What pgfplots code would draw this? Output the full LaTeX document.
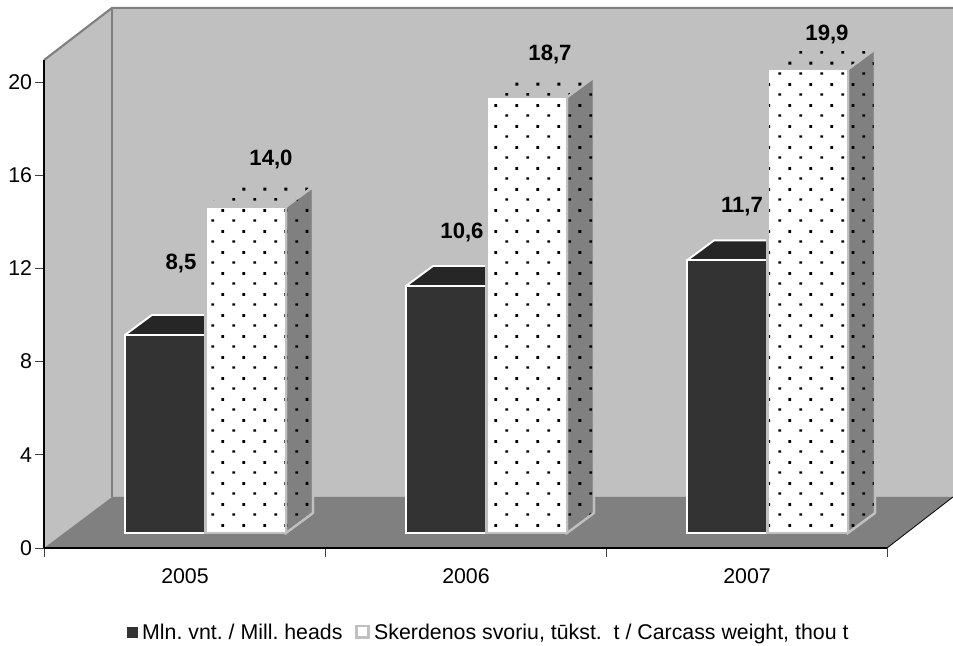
\documentclass[border=0pt]{standalone}
\usepackage{fontspec}
\setmainfont{Liberation Sans}
\usepackage{pgfplots}
\pgfplotsset{compat=1.18}
\usetikzlibrary{patterns}
\definecolor{wall}{HTML}{C0C0C0}
\definecolor{floorc}{HTML}{808080}
\definecolor{darkbar}{HTML}{333333}
\definecolor{darktop}{HTML}{262626}
\pgfdeclarepatternformonly{tiledots}{\pgfqpoint{0pt}{0pt}}{\pgfqpoint{15.75pt}{15.75pt}}{\pgfqpoint{15.75pt}{15.75pt}}{%
  \pgfpathrectangle{\pgfqpoint{8.875pt}{11.075pt}}{\pgfqpoint{2.25pt}{2.25pt}}%
  \pgfpathrectangle{\pgfqpoint{1pt}{3.425pt}}{\pgfqpoint{2.25pt}{1.8pt}}%
  \pgfusepath{fill}}
\newcommand{\fs}{\fontsize{16}{18}\selectfont\frenchspacing}
\begin{document}
\begin{tikzpicture}
\useasboundingbox (-33pt,-73.5pt) rectangle (681.75pt,411pt);
\begin{axis}[
  x=0.75pt, y=17.475pt,
  xmin=44, xmax=887, ymin=0, ymax=20.94,
  clip=false, axis on top=true,
  axis x line*=bottom, axis y line*=left,
  axis line style={black, line width=0.9pt, -},
  tick align=outside, major tick length=6.4pt,
  tick style={line width=0.7pt, color=black!75},
  xtick={44,325,606,887}, xticklabels={},
  extra x ticks={185,466,747},
  extra x tick labels={2005,2006,2007},
  extra x tick style={major tick length=0pt, tick label style={yshift=-12pt}},
  ytick={0,4,8,12,16,20},
  /pgf/number format/assume math mode=true,
  tick label style={font=\fs},
  yticklabel style={xshift=1pt},
  legend style={at={(axis cs:490,-3.62)}, anchor=center, draw=none, fill=none, font=\fs,
    legend columns=2, /tikz/every even column/.append style={column sep=6pt},
    nodes={inner xsep=3.4pt}},
  legend image code/.code={\draw[#1] (0pt,-3.7pt) rectangle (7.6pt,3.9pt);},
]
% walls and floor
\addplot[fill=wall, draw=none, forget plot] coordinates {(44,0)(112,2.19)(112,23.18)(44,20.94)} --cycle;
\addplot[fill=wall, draw=none, forget plot] coordinates {(112,2.19)(953,2.19)(953,23.18)(112,23.18)} --cycle;
\addplot[fill=floorc, draw=none, forget plot] coordinates {(44,0)(112,2.19)(953,2.19)(887,0)} --cycle;
\addplot[floorc, line width=1.6pt, forget plot] coordinates {(44,20.94)(112,23.18)(953,23.18)};
\addplot[floorc, line width=1.9pt, forget plot] coordinates {(112,23.18)(112,2.19)};
\addplot[black, line width=0.6pt, forget plot] coordinates {(887,0)(953,2.19)};
% dark series: tops, then front faces
\begin{scope}[yshift=5.625pt]
\addplot[fill=darktop, draw=white, line width=1.4pt, line join=round, forget plot] coordinates {(125,8.5)(152,9.358)(232.5,9.358)(205.5,8.5)} --cycle;
\addplot[fill=darktop, draw=white, line width=1.4pt, line join=round, forget plot] coordinates {(406,10.6)(433,11.458)(513.5,11.458)(486.5,10.6)} --cycle;
\addplot[fill=darktop, draw=white, line width=1.4pt, line join=round, forget plot] coordinates {(687,11.7)(714,12.558)(794.5,12.558)(767.5,11.7)} --cycle;
\addplot[ybar, bar shift=0pt, bar width=60.375pt, fill=darkbar, draw=white, line width=1.4pt, forget plot]
  coordinates {(165.25,8.5)(446.25,10.6)(727.25,11.7)};
% dotted series: tops, sides, front faces
\addplot[preaction={fill=wall}, pattern=tiledots, pattern color=black, draw=none, forget plot] coordinates {(205.5,14.0)(232.5,14.858)(313,14.858)(286,14.0)} --cycle;
\addplot[preaction={fill=wall}, pattern=tiledots, pattern color=black, draw=none, forget plot] coordinates {(486.5,18.7)(513.5,19.558)(594,19.558)(567,18.7)} --cycle;
\addplot[preaction={fill=wall}, pattern=tiledots, pattern color=black, draw=none, forget plot] coordinates {(767.5,19.9)(794.5,20.758)(875,20.758)(848,19.9)} --cycle;
\addplot[preaction={fill=floorc}, pattern=tiledots, pattern color=black, draw=wall, line width=1.6pt, forget plot] coordinates {(286,0)(313,0.858)(313,14.858)(286,14.0)} --cycle;
\addplot[preaction={fill=floorc}, pattern=tiledots, pattern color=black, draw=wall, line width=1.6pt, forget plot] coordinates {(567,0)(594,0.858)(594,19.558)(567,18.7)} --cycle;
\addplot[preaction={fill=floorc}, pattern=tiledots, pattern color=black, draw=wall, line width=1.6pt, forget plot] coordinates {(848,0)(875,0.858)(875,20.758)(848,19.9)} --cycle;
\addplot[ybar, bar shift=0pt, bar width=60.375pt, preaction={fill=white}, pattern=tiledots, pattern color=black, draw=wall, line width=1.6pt, forget plot]
  coordinates {(245.75,14.0)(526.75,18.7)(807.75,19.9)};
\end{scope}
% value labels
\addplot[draw=none, mark=none, forget plot, point meta=explicit symbolic,
  nodes near coords, nodes near coords style={anchor=center, font=\fontsize{16.6}{18}\selectfont\bfseries}]
  coordinates {(181,12.19)[8,5] (271,16.69)[14,0] (462,13.56)[10,6] (550,21.2)[18,7] (742,14.64)[11,7] (827,22.02)[19,9]};
\addlegendimage{fill=darkbar, draw=darkbar}
\addlegendentry{Mln. vnt. / Mill. heads}
\addlegendimage{legend image code/.code={\draw[fill=white, draw=wall, line width=2.1pt] (0pt,-4.1pt) rectangle (8.9pt,4.7pt);}}
\addlegendentry{Skerdenos svoriu, tūkst.~ t / Carcass weight, thou t}
\end{axis}
\end{tikzpicture}
\end{document}
